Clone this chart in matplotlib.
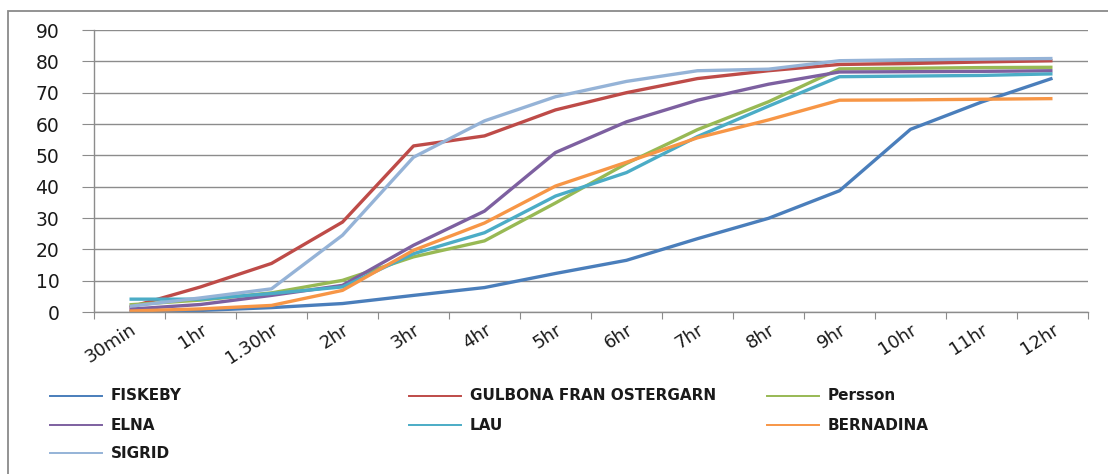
import numpy as np
import matplotlib.pyplot as plt
from matplotlib.lines import Line2D
from matplotlib.patches import Rectangle

# time points and germination values per variety
times = ['30min', '1hr', '1.30hr', '2hr', '3hr', '4hr', '5hr',
         '6hr', '7hr', '8hr', '9hr', '10hr', '11hr', '12hr']

fiskeby   = [0.2, 0.5, 1.4, 2.7, 5.3, 7.8, 12.3, 16.5, 23.4, 29.9, 38.7, 58.3, 67.0, 74.6]
gulbona   = [1.5, 8.0, 15.5, 28.7, 53.0, 56.2, 64.5, 70.0, 74.5, 77.0, 79.0, 79.3, 79.8, 80.2]
persson   = [2.3, 3.8, 6.1, 10.1, 17.6, 22.7, 34.8, 47.4, 58.2, 67.1, 77.6, 77.8, 78.0, 78.1]
elna      = [0.9, 2.4, 5.3, 8.5, 21.3, 32.2, 50.9, 60.7, 67.6, 72.7, 76.6, 76.7, 76.8, 77.0]
lau       = [4.1, 4.1, 5.9, 8.0, 18.6, 25.3, 37.0, 44.5, 56.0, 65.7, 75.1, 75.3, 75.5, 76.0]
bernadina = [0.3, 1.0, 2.1, 6.9, 19.7, 28.4, 40.2, 47.8, 55.6, 61.3, 67.6, 67.7, 67.9, 68.1]
sigrid    = [1.8, 4.5, 7.4, 24.5, 49.4, 61.0, 68.7, 73.6, 77.0, 77.5, 80.2, 80.5, 80.7, 80.9]

names = ['FISKEBY', 'GULBONA FRAN OSTERGARN', 'Persson',
         'ELNA', 'LAU', 'BERNADINA', 'SIGRID']
series = [fiskeby, gulbona, persson, elna, lau, bernadina, sigrid]
colors = ['#4a7ebb', '#be4b48', '#98b954', '#7d60a0', '#4bacc6', '#f79646', '#95b3d7']

W, H = 1108, 474
fig = plt.figure(figsize=(W / 100, H / 100), dpi=100)
plt.rcParams['font.family'] = 'DejaVu Sans'

# outer chart frame (only top and left edges fall inside the image)
fig.add_artist(Rectangle((8 / W, -0.1), 1.2, 1 - 11 / H + 0.1, transform=fig.transFigure,
                         fill=False, edgecolor='#8a8a8a', linewidth=1.3))

ax = fig.add_axes([94 / W, 1 - 312 / H, (1088 - 94) / W, (312 - 30) / H])
x = np.arange(len(times))
for vals, c in zip(series, colors):
    ax.plot(x, vals, color=c, linewidth=2.4, solid_capstyle='butt')

ax.set_xlim(-0.5, len(times) - 0.5)
ax.set_ylim(0, 90)
ax.set_yticks(np.arange(0, 91, 10))
ax.yaxis.grid(True, color='#8c8c8c', linewidth=1.0)
ax.set_axisbelow(True)
for s in ['top', 'right']:
    ax.spines[s].set_visible(False)
for s in ['left', 'bottom']:
    ax.spines[s].set_color('#8c8c8c')
    ax.spines[s].set_linewidth(1.0)

# category boundaries carry the tick marks, labels sit at the centres
ax.set_xticks(np.arange(-0.5, len(times), 1.0))
ax.set_xticklabels([])
ax.set_xticks(x, minor=True)
ax.set_xticklabels(times, minor=True, rotation=33, ha='right', va='top',
                   rotation_mode='anchor', fontsize=13, color='#1a1a1a')
ax.tick_params(axis='x', which='major', length=5, color='#8c8c8c')
ax.tick_params(axis='x', which='minor', length=0, pad=6)
ax.tick_params(axis='y', length=9, color='#8c8c8c', labelsize=13.5,
               labelcolor='#1a1a1a', pad=16)

# legend laid out in three fixed-width columns
col_x = [50, 409, 767]
row_y = [396, 425, 453]
for i, (name, c) in enumerate(zip(names, colors)):
    r, k = divmod(i, 3)
    x0 = col_x[k]
    y0 = 1 - row_y[r] / H
    fig.add_artist(Line2D([x0 / W, (x0 + 52) / W], [y0, y0], transform=fig.transFigure,
                          color=c, linewidth=1.4))
    fig.text((x0 + 61) / W, y0, name, fontsize=11, fontweight='bold', color='#1a1a1a',
             va='center', ha='left')

fig.savefig('out.png', dpi=100)
